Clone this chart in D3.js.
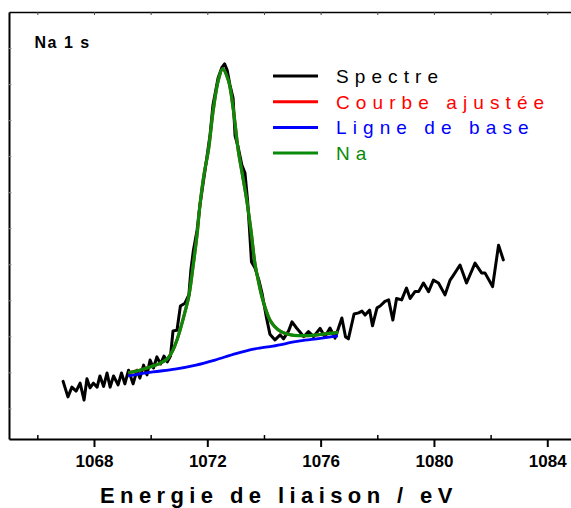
<!DOCTYPE html>
<html>
<head>
<meta charset="utf-8">
<script src="https://cdn.jsdelivr.net/npm/d3@7"></script>
<style>
  html, body { margin: 0; padding: 0; background: #fff; }
  svg { display: block; }
  text { font-family: "Liberation Sans", Arial, Helvetica, sans-serif; }
</style>
</head>
<body>
<svg id="chart" width="571" height="508"></svg>
<script>
// Na 1s XPS region: binding energy (eV) and intensity (arb. units)
const spectrumEnergy = [
  1066.91, 1067.08, 1067.22, 1067.37, 1067.51, 1067.65, 1067.75, 1067.86, 1067.98, 1068.11,
  1068.21, 1068.34, 1068.46, 1068.57, 1068.69, 1068.85, 1068.97, 1069.09, 1069.22, 1069.38,
  1069.52, 1069.62, 1069.75, 1069.87, 1069.98, 1070.10, 1070.22, 1070.35, 1070.47, 1070.59,
  1070.70, 1070.79, 1070.93, 1071.05, 1071.21, 1071.35, 1071.42, 1071.51, 1071.64, 1071.74,
  1071.92, 1072.10, 1072.20, 1072.38, 1072.52, 1072.61, 1072.70, 1072.80, 1072.91, 1072.98,
  1073.08, 1073.22, 1073.33, 1073.42, 1073.49, 1073.56, 1073.68, 1073.82, 1073.93, 1074.09,
  1074.21, 1074.39, 1074.57, 1074.69, 1074.87, 1074.99, 1075.15, 1075.27, 1075.40, 1075.57,
  1075.75, 1075.98, 1076.15, 1076.33, 1076.51, 1076.75, 1076.88, 1076.98, 1077.18, 1077.34,
  1077.46, 1077.57, 1077.73, 1077.83, 1077.99, 1078.10, 1078.27, 1078.40, 1078.55, 1078.68,
  1078.86, 1079.03, 1079.16, 1079.33, 1079.46, 1079.63, 1079.81, 1079.98, 1080.16, 1080.39,
  1080.57, 1080.69, 1080.92, 1081.15, 1081.45, 1081.68, 1081.80, 1082.07, 1082.28, 1082.45
];
const spectrumCounts = [
  1.75, 1.32, 1.59, 1.48, 1.70, 1.23, 1.82, 1.57, 1.70, 1.59,
  1.90, 1.61, 1.98, 1.59, 1.90, 1.65, 1.98, 1.68, 2.06, 1.68,
  2.06, 1.84, 2.20, 1.93, 2.34, 2.12, 2.43, 2.23, 2.45, 2.29,
  2.45, 3.15, 3.17, 3.84, 3.92, 4.15, 4.84, 5.39, 5.95, 6.64,
  7.61, 8.61, 9.42, 10.17, 10.47, 10.56, 10.39, 9.97, 9.61, 8.56,
  8.28, 7.75, 7.53, 6.78, 5.95, 5.06, 4.90, 4.56, 4.20, 3.51,
  3.06, 2.90, 3.04, 2.93, 3.15, 3.40, 3.23, 3.12, 2.99, 3.13,
  2.99, 3.22, 2.99, 3.23, 2.95, 3.51, 2.98, 2.93, 3.62, 3.65,
  3.70, 3.59, 3.73, 3.29, 3.79, 3.84, 3.97, 4.01, 3.45, 4.05,
  4.01, 4.34, 4.05, 4.24, 4.24, 4.48, 4.24, 4.56, 4.48, 4.15,
  4.56, 4.70, 4.98, 4.48, 5.03, 4.76, 4.76, 4.38, 5.53, 5.12
];

// Shirley-type background under the peak
const baseEnergy = [1069.20, 1070.08, 1070.86, 1071.60, 1072.27, 1073.01, 1073.68, 1074.32, 1075.27, 1075.98, 1076.61];
const baseCounts = [1.90, 2.01, 2.09, 2.20, 2.34, 2.52, 2.65, 2.73, 2.87, 2.94, 3.01];

// Na component (on background)
const naEnergy = [
  1069.21, 1069.62, 1069.98, 1070.33, 1070.58, 1070.79, 1070.93, 1071.07, 1071.21, 1071.35,
  1071.49, 1071.64, 1071.74, 1071.88, 1072.04, 1072.21, 1072.39, 1072.54, 1072.74, 1072.92,
  1073.09, 1073.24, 1073.39, 1073.54, 1073.68, 1073.81, 1073.93, 1074.07, 1074.21, 1074.39,
  1074.60, 1074.95, 1075.27, 1075.62, 1075.98, 1076.33, 1076.62
];
const naCounts = [
  1.99, 2.06, 2.15, 2.25, 2.37, 2.62, 2.90, 3.26, 3.67, 4.12,
  4.90, 5.84, 6.64, 7.48, 8.17, 9.28, 10.11, 10.42, 10.11, 9.28,
  8.17, 7.48, 6.78, 5.95, 5.03, 4.51, 4.09, 3.73, 3.45, 3.26,
  3.13, 3.04, 3.02, 3.02, 3.05, 3.08, 3.11
];
// Envelope of the fit (single component, so it follows the Na curve)
const fitCounts = [
  1.99, 2.06, 2.15, 2.25, 2.37, 2.62, 2.90, 3.26, 3.67, 4.12,
  4.90, 5.84, 6.64, 7.48, 8.17, 9.28, 10.11, 10.42, 10.11, 9.28,
  8.17, 7.48, 6.78, 5.95, 5.03, 4.51, 4.09, 3.73, 3.45, 3.26,
  3.13, 3.04, 3.02, 3.02, 3.05, 3.08, 3.11
];

const majorTicks = [1068, 1072, 1076, 1080, 1084];
const minorTicks = [1066, 1070, 1074, 1078, 1082];
const topTicks = [1066, 1068, 1070, 1072, 1074, 1076, 1078, 1080, 1082, 1084];
const leftTicks = [1, 2, 3, 4, 5, 6, 7, 8, 9, 10, 11];

const legendItems = [
  { label: "Spectre", color: "#000000" },
  { label: "Courbe ajustée", color: "#ff0000" },
  { label: "Ligne de base", color: "#0000ff" },
  { label: "Na", color: "#0a8a0a" }
];

const svg = d3.select("#chart");

const x = d3.scaleLinear().domain([1065, 1085]).range([9, 575.6]);
const y = d3.scaleLinear().domain([0.15, 12.0]).range([439, 12]);

// frame: top border with small inward ticks
const topAxis = svg.append("g").attr("transform", "translate(0,12)")
  .call(d3.axisTop(x).tickValues(topTicks).tickSize(-3).tickSizeOuter(0).tickFormat(""));
topAxis.select(".domain").attr("stroke-width", 1.5);
topAxis.selectAll(".tick line").attr("stroke-width", 1).attr("stroke", "#444");

// left axis with small inward ticks, no labels
const leftAxis = svg.append("g").attr("transform", "translate(9,0)")
  .call(d3.axisLeft(y).tickValues(leftTicks).tickSize(-2.5).tickSizeOuter(0).tickFormat(""));
leftAxis.select(".domain").attr("stroke-width", 2);
leftAxis.selectAll(".tick line").attr("stroke-width", 1).attr("stroke", "#888");

// bottom axis: labelled major ticks outward, minor ticks inward
const bottomMinor = svg.append("g").attr("transform", "translate(0,439)")
  .call(d3.axisBottom(x).tickValues(minorTicks).tickSize(-4).tickSizeOuter(0).tickFormat(""));
bottomMinor.select(".domain").remove();
bottomMinor.selectAll(".tick line").attr("stroke-width", 1.5);

const bottomMajor = svg.append("g").attr("transform", "translate(0,439)")
  .call(d3.axisBottom(x).tickValues(majorTicks).tickSize(8).tickSizeOuter(0).tickPadding(8.4).tickFormat(d3.format("d")));
bottomMajor.select(".domain").attr("stroke-width", 2);
bottomMajor.selectAll(".tick line").attr("stroke-width", 2);
bottomMajor.selectAll(".tick text")
  .attr("fill", "#000")
  .style("font-family", '"Liberation Sans", Arial, sans-serif')
  .style("font-size", "17px")
  .style("font-weight", "bold");

// axis title
svg.append("text")
  .attr("x", 100)
  .attr("y", 502.5)
  .style("font-size", "22px")
  .style("font-weight", "bold")
  .style("letter-spacing", "5.4px")
  .attr("fill", "#000")
  .text("Energie de liaison / eV");

// region label
svg.append("text")
  .attr("x", 34.5)
  .attr("y", 48.3)
  .style("font-size", "16px")
  .style("font-weight", "bold")
  .style("letter-spacing", "1.5px")
  .attr("fill", "#000")
  .text("Na 1 s");

// curves
const lineGen = (xs, ys, curve) => d3.line()
  .x((d, i) => x(xs[i]))
  .y((d, i) => y(ys[i]))
  .curve(curve)(ys);

svg.append("path")
  .attr("d", lineGen(spectrumEnergy, spectrumCounts, d3.curveLinear))
  .attr("fill", "none").attr("stroke", "#000").attr("stroke-width", 3)
  .attr("stroke-linejoin", "round").attr("stroke-linecap", "round");

svg.append("path")
  .attr("d", lineGen(baseEnergy, baseCounts, d3.curveMonotoneX))
  .attr("fill", "none").attr("stroke", "#0000ff").attr("stroke-width", 2.8);

svg.append("path")
  .attr("d", lineGen(naEnergy, fitCounts, d3.curveCatmullRom))
  .attr("fill", "none").attr("stroke", "#ff0000").attr("stroke-width", 3);

svg.append("path")
  .attr("d", lineGen(naEnergy, naCounts, d3.curveCatmullRom))
  .attr("fill", "none").attr("stroke", "#0a8a0a").attr("stroke-width", 3.2);

// legend
const legend = svg.append("g");
legendItems.forEach((item, i) => {
  const ly = 76 + i * 25.7;
  legend.append("line")
    .attr("x1", 273).attr("x2", 318)
    .attr("y1", ly).attr("y2", ly)
    .attr("stroke", item.color).attr("stroke-width", 3);
  legend.append("text")
    .attr("x", 336).attr("y", ly + 7)
    .style("font-size", "19px")
    .style("letter-spacing", "6.1px")
    .attr("fill", item.color)
    .text(item.label);
});
</script>
</body>
</html>
